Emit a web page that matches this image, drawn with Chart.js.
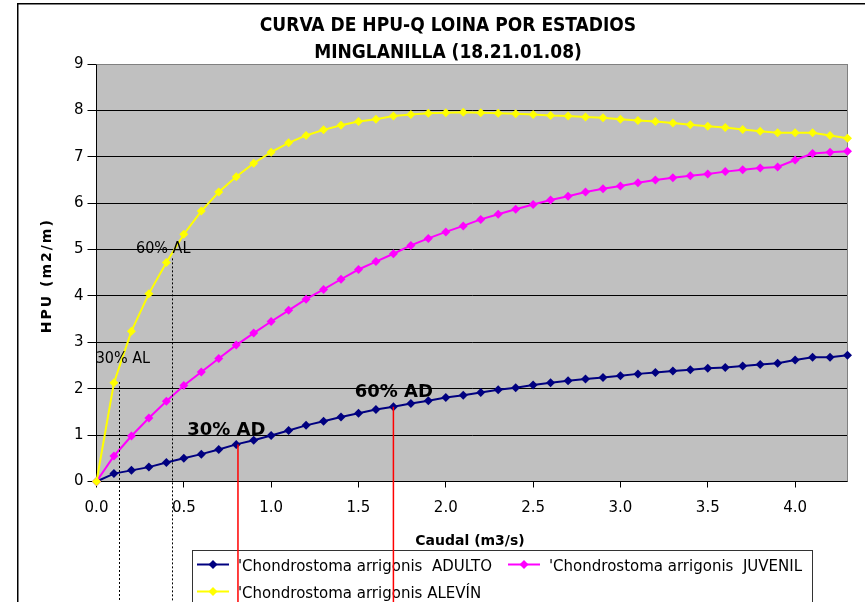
<!DOCTYPE html>
<html>
<head>
<meta charset="utf-8">
<title>Curva de HPU-Q Loina por estadios</title>
<script src="https://cdn.jsdelivr.net/npm/chart.js@4/dist/chart.umd.min.js"></script>
<style>
  html, body { margin: 0; padding: 0; background: #fff; }
  canvas { display: block; }
</style>
</head>
<body>
<canvas id="c" width="865" height="602"></canvas>
<script>
// Caudal (m3/s)
const caudal = [0.0, 0.1, 0.2, 0.3, 0.4, 0.5, 0.6, 0.7, 0.8, 0.9,
                1.0, 1.1, 1.2, 1.3, 1.4, 1.5, 1.6, 1.7, 1.8, 1.9,
                2.0, 2.1, 2.2, 2.3, 2.4, 2.5, 2.6, 2.7, 2.8, 2.9,
                3.0, 3.1, 3.2, 3.3, 3.4, 3.5, 3.6, 3.7, 3.8, 3.9,
                4.0, 4.1, 4.2, 4.3];

// HPU (m2/m) per life stage
const adulto = [0, 0.17, 0.24, 0.31, 0.41, 0.50, 0.59, 0.69, 0.80, 0.89,
                0.99, 1.10, 1.21, 1.30, 1.39, 1.47, 1.55, 1.61, 1.68, 1.74,
                1.81, 1.86, 1.92, 1.98, 2.02, 2.08, 2.13, 2.17, 2.21, 2.24,
                2.28, 2.32, 2.35, 2.38, 2.41, 2.44, 2.46, 2.49, 2.52, 2.55,
                2.62, 2.68, 2.68, 2.72];
const juvenil = [0, 0.55, 0.98, 1.37, 1.73, 2.07, 2.36, 2.65, 2.94, 3.20,
                 3.45, 3.69, 3.93, 4.14, 4.36, 4.57, 4.74, 4.91, 5.09, 5.24,
                 5.38, 5.51, 5.65, 5.76, 5.87, 5.97, 6.07, 6.15, 6.24, 6.31,
                 6.37, 6.44, 6.50, 6.55, 6.59, 6.63, 6.68, 6.72, 6.76, 6.78,
                 6.93, 7.07, 7.10, 7.12];
const alevin = [0, 2.13, 3.24, 4.05, 4.72, 5.33, 5.83, 6.24, 6.57, 6.86,
                7.10, 7.30, 7.46, 7.58, 7.68, 7.76, 7.81, 7.88, 7.91, 7.94,
                7.95, 7.96, 7.95, 7.94, 7.93, 7.91, 7.89, 7.88, 7.86, 7.84,
                7.81, 7.78, 7.76, 7.73, 7.69, 7.66, 7.63, 7.59, 7.55, 7.52,
                7.52, 7.52, 7.46, 7.40];

const seriesNames = ["'Chondrostoma arrigonis  ADULTO",
                     "'Chondrostoma arrigonis  JUVENIL",
                     "'Chondrostoma arrigonis ALEVÍN"];
const seriesColors = ['#000080', '#FF00FF', '#FFFF00'];

const xTickValues = [0, 0.5, 1.0, 1.5, 2.0, 2.5, 3.0, 3.5, 4.0];
const yTickValues = [0, 1, 2, 3, 4, 5, 6, 7, 8, 9];

const titleLines = ['CURVA DE HPU-Q LOINA POR ESTADIOS', 'MINGLANILLA (18.21.01.08)'];
const xTitle = 'Caudal (m3/s)';
const yTitle = 'HPU (m2/m)';

// Threshold guides: [caudal, HPU where the guide starts]
const adultoGuides = [[0.81, 0.80], [1.70, 1.61]];
const alevinGuides = [[0.131, 2.145], [0.434, 4.81]];
// Threshold captions placed in data units (centre x, baseline y)
const guideLabels = [
  { text: '30% AL', x: 0.151, y: 2.548, bold: false },
  { text: '60% AL', x: 0.382, y: 4.932, bold: false },
  { text: '30% AD', x: 0.743, y: 0.992, bold: true },
  { text: '60% AD', x: 1.702, y: 1.811, bold: true }
];

const COND = '"DejaVu Sans Condensed", "DejaVu Sans", sans-serif';
const SANS = '"DejaVu Sans", sans-serif';

function diamond(ctx, x, y, r, color) {
  ctx.beginPath();
  ctx.moveTo(x, y - r);
  ctx.lineTo(x + r, y);
  ctx.lineTo(x, y + r);
  ctx.lineTo(x - r, y);
  ctx.closePath();
  ctx.fillStyle = color;
  ctx.fill();
}

const decor = {
  id: 'decor',
  beforeDraw(chart) {
    const { ctx, chartArea: a } = chart;
    ctx.save();
    ctx.fillStyle = '#ffffff';
    ctx.fillRect(0, 0, chart.width, chart.height);
    ctx.fillStyle = '#c0c0c0';
    ctx.fillRect(a.left, a.top, a.right - a.left, a.bottom - a.top);
    ctx.restore();
  },
  beforeDatasetsDraw(chart) {
    const { ctx, chartArea: a } = chart;
    ctx.save();
    ctx.strokeStyle = '#808080';
    ctx.lineWidth = 1;
    ctx.beginPath();
    ctx.moveTo(a.left, Math.round(a.top) + 0.5);
    ctx.lineTo(a.right, Math.round(a.top) + 0.5);
    ctx.moveTo(Math.round(a.right) - 0.5, a.top);
    ctx.lineTo(Math.round(a.right) - 0.5, a.bottom);
    ctx.stroke();
    ctx.restore();
  },
  afterDraw(chart) {
    const { ctx, scales: { x, y } } = chart;
    const H = chart.height;
    ctx.save();

    // chart frame
    ctx.strokeStyle = '#000';
    ctx.lineWidth = 1.5;
    ctx.strokeRect(17.75, 3.75, 1000, 1000);

    // title
    ctx.fillStyle = '#000';
    ctx.textAlign = 'center';
    ctx.textBaseline = 'alphabetic';
    ctx.font = 'bold 19px ' + COND;
    ctx.fillText(titleLines[0], 448, 31);
    ctx.fillText(titleLines[1], 448, 58.3);

    // axis titles
    ctx.font = 'bold 14px ' + SANS;
    ctx.fillText(xTitle, 470, 545);
    ctx.save();
    ctx.translate(46.3, 276.7);
    ctx.rotate(-Math.PI / 2);
    ctx.letterSpacing = '2px';
    ctx.fillText(yTitle, 1, 5.1);
    ctx.restore();

    // legend
    ctx.fillStyle = '#ffffff';
    ctx.fillRect(192.5, 550.5, 620, 80);
    ctx.strokeStyle = '#333';
    ctx.lineWidth = 1;
    ctx.strokeRect(192.5, 550.5, 620, 80);
    const entries = [[197, 564.5], [508, 564.5], [197, 591.5]];
    ctx.font = '15px ' + SANS;
    ctx.textAlign = 'left';
    entries.forEach(([lx, ly], i) => {
      ctx.strokeStyle = seriesColors[i];
      ctx.lineWidth = 2;
      ctx.beginPath();
      ctx.moveTo(lx, ly);
      ctx.lineTo(lx + 32, ly);
      ctx.stroke();
      diamond(ctx, lx + 16, ly, 4.5, seriesColors[i]);
      ctx.fillStyle = '#000';
      ctx.fillText(seriesNames[i], lx + 41, ly + 6.8);
    });

    // threshold guides
    ctx.lineWidth = 1.5;
    ctx.strokeStyle = '#ff0000';
    adultoGuides.forEach(([gx, gy]) => {
      const px = x.getPixelForValue(gx);
      ctx.beginPath();
      ctx.moveTo(px, y.getPixelForValue(gy));
      ctx.lineTo(px, H);
      ctx.stroke();
    });
    ctx.lineWidth = 1;
    ctx.strokeStyle = '#000';
    ctx.setLineDash([2, 2]);
    alevinGuides.forEach(([gx, gy]) => {
      const px = Math.round(x.getPixelForValue(gx)) + 0.5;
      ctx.beginPath();
      ctx.moveTo(px, y.getPixelForValue(gy));
      ctx.lineTo(px, H);
      ctx.stroke();
    });
    ctx.setLineDash([]);

    // threshold captions
    ctx.fillStyle = '#000';
    ctx.textAlign = 'center';
    guideLabels.forEach(l => {
      ctx.font = (l.bold ? 'bold 18px ' + SANS : '16px ' + COND);
      ctx.fillText(l.text, x.getPixelForValue(l.x), y.getPixelForValue(l.y));
    });

    ctx.restore();
  }
};

function series(values) {
  return caudal.map((c, i) => ({ x: c, y: values[i] }));
}

const stageValues = [adulto, juvenil, alevin];
const datasets = stageValues.map((vals, i) => ({
  label: seriesNames[i],
  data: series(vals),
  borderColor: seriesColors[i],
  backgroundColor: seriesColors[i],
  borderWidth: 2,
  pointStyle: 'rectRot',
  pointRadius: 4.5,
  pointBorderWidth: 0,
  tension: 0,
  clip: false,
  order: 3 - i
}));

new Chart(document.getElementById('c'), {
  type: 'line',
  data: { datasets },
  options: {
    responsive: false,
    devicePixelRatio: 1,
    animation: false,
    events: [],
    layout: { padding: { left: 0, top: 64, right: 17.5, bottom: 0 } },
    plugins: { legend: { display: false }, tooltip: { enabled: false }, title: { display: false } },
    scales: {
      x: {
        type: 'linear',
        min: 0,
        max: 4.3,
        afterFit(s) { s.height = 120.5; },
        afterBuildTicks(s) { s.ticks = xTickValues.map(v => ({ value: v })); },
        grid: { drawOnChartArea: false, tickLength: 6, tickColor: '#000', color: '#000' },
        border: { color: '#000', width: 1 },
        ticks: {
          font: { family: 'DejaVu Sans', size: 15 },
          color: '#000',
          padding: 12,
          maxRotation: 0,
          autoSkip: false,
          callback: v => Number(v).toFixed(1)
        }
      },
      y: {
        type: 'linear',
        min: 0,
        max: 9,
        afterFit(s) { s.width = 96.5; },
        afterBuildTicks(s) { s.ticks = yTickValues.map(v => ({ value: v })); },
        grid: {
          color: c => (c.tick && c.tick.value === 9 ? '#808080' : '#000'),
          tickColor: '#000',
          tickLength: 9,
          lineWidth: 1
        },
        border: { color: '#000', width: 1 },
        ticks: { font: { family: 'DejaVu Sans', size: 15 }, color: '#000', padding: 4 }
      }
    }
  },
  plugins: [decor]
});
</script>
</body>
</html>
